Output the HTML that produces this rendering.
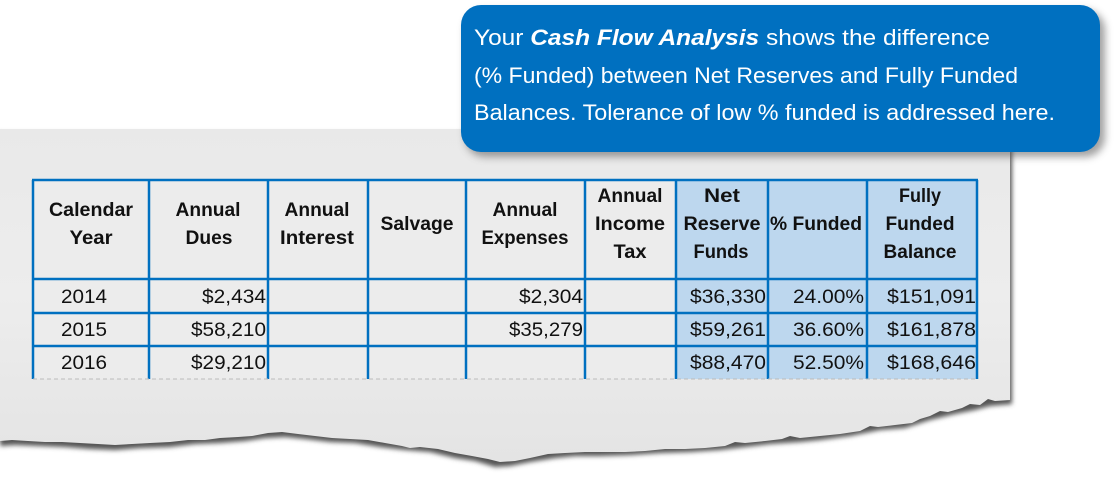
<!DOCTYPE html>
<html><head><meta charset="utf-8"><style>
html,body{margin:0;padding:0;background:#fff;width:1114px;height:480px;overflow:hidden}
svg{display:block}
</style></head><body>
<svg width="1114" height="480" viewBox="0 0 1114 480" xmlns="http://www.w3.org/2000/svg">
<defs>
<filter id="bl" x="-5%" y="-5%" width="110%" height="120%"><feGaussianBlur stdDeviation="2.5"/></filter>
<filter id="bl2" x="-5%" y="-10%" width="115%" height="130%"><feGaussianBlur stdDeviation="4"/></filter>
<linearGradient id="pg" x1="0" y1="0" x2="0" y2="1">
<stop offset="0" stop-color="#e9e9e9"/><stop offset="0.5" stop-color="#ededed"/><stop offset="1" stop-color="#e4e4e4"/>
</linearGradient>
</defs>
<path d="M0,133 L1012,133 L1012,404 L990,406 L975,410 L955,414 L930,420 L905,428 L880,430 L850,436 L820,440 L800,442 L770,444 L745,447 L720,450 L690,452 L660,453 L630,455 L600,456 L575,456 L555,458 L530,462 L510,466 L495,467 L475,461 L455,458 L430,452 L405,450 L380,447 L355,443 L330,442 L305,439 L285,437 L265,438 L245,441 L220,443 L195,444 L170,447 L140,448 L115,450 L90,449 L65,447 L40,446 L15,445 L0,446 Z" fill="#555" filter="url(#bl)"/>
<path d="M0,129 L1010,129 L1010,400 L995,401 L988,399 L980,405 L970,404 L962,408 L948,412 L940,411 L930,416 L920,419 L912,423 L895,425 L878,427 L870,426 L860,431 L840,434 L820,436 L800,438 L790,436 L782,439 L765,441 L745,443 L735,442 L725,446 L705,448 L685,449 L665,449 L645,451 L625,452 L605,452 L585,452 L565,453 L548,454 L530,458 L515,461 L500,462 L488,459 L472,456 L455,453 L438,449 L420,447 L410,448 L402,446 L385,443 L368,440 L350,439 L332,438 L315,436 L298,434 L282,432 L268,433 L252,436 L238,437 L220,438 L205,440 L188,440 L170,442 L150,443 L132,444 L115,445 L98,444 L80,443 L62,442 L45,442 L28,441 L12,440 L0,441 Z" fill="url(#pg)"/>

<rect x="33" y="180" width="643" height="199" fill="#ececec"/>
<rect x="676" y="180" width="301" height="199" fill="#bdd7ee"/>
<g stroke="#0070c0" stroke-width="2.5" fill="none">
<line x1="32" y1="180" x2="978" y2="180"/>
<line x1="32" y1="279" x2="978" y2="279"/>
<line x1="32" y1="313" x2="978" y2="313"/>
<line x1="32" y1="346" x2="978" y2="346"/>
<line x1="33" y1="180" x2="33" y2="379"/>
<line x1="149" y1="180" x2="149" y2="379"/>
<line x1="268" y1="180" x2="268" y2="379"/>
<line x1="368" y1="180" x2="368" y2="379"/>
<line x1="466" y1="180" x2="466" y2="379"/>
<line x1="585" y1="180" x2="585" y2="379"/>
<line x1="676" y1="180" x2="676" y2="379"/>
<line x1="768" y1="180" x2="768" y2="379"/>
<line x1="867" y1="180" x2="867" y2="379"/>
<line x1="977" y1="180" x2="977" y2="379"/>
</g>
<line x1="33" y1="379" x2="977" y2="379" stroke="#bbb" stroke-width="1" stroke-dasharray="4,3"/>

<g font-family="Liberation Sans, sans-serif" font-weight="bold" font-size="19" fill="#111" text-anchor="middle">
<text x="91" y="216" textLength="84" lengthAdjust="spacingAndGlyphs">Calendar</text>
<text x="91" y="244" textLength="43" lengthAdjust="spacingAndGlyphs">Year</text>
<text x="208" y="216" textLength="65" lengthAdjust="spacingAndGlyphs">Annual</text>
<text x="209" y="244" textLength="47" lengthAdjust="spacingAndGlyphs">Dues</text>
<text x="317" y="216" textLength="65" lengthAdjust="spacingAndGlyphs">Annual</text>
<text x="317" y="244" textLength="74" lengthAdjust="spacingAndGlyphs">Interest</text>
<text x="417" y="230" textLength="73" lengthAdjust="spacingAndGlyphs">Salvage</text>
<text x="525" y="216" textLength="65" lengthAdjust="spacingAndGlyphs">Annual</text>
<text x="525" y="244" textLength="87" lengthAdjust="spacingAndGlyphs">Expenses</text>
<text x="630" y="202" textLength="65" lengthAdjust="spacingAndGlyphs">Annual</text>
<text x="630" y="230" textLength="70" lengthAdjust="spacingAndGlyphs">Income</text>
<text x="630" y="258" textLength="33" lengthAdjust="spacingAndGlyphs">Tax</text>
<text x="722" y="202" textLength="36" lengthAdjust="spacingAndGlyphs">Net</text>
<text x="722" y="230" textLength="77" lengthAdjust="spacingAndGlyphs">Reserve</text>
<text x="721" y="258" textLength="55" lengthAdjust="spacingAndGlyphs">Funds</text>
<text x="816" y="230" textLength="92" lengthAdjust="spacingAndGlyphs">% Funded</text>
<text x="920" y="202" textLength="42" lengthAdjust="spacingAndGlyphs">Fully</text>
<text x="920" y="230" textLength="69" lengthAdjust="spacingAndGlyphs">Funded</text>
<text x="920" y="258" textLength="73" lengthAdjust="spacingAndGlyphs">Balance</text>
</g>

<g font-family="Liberation Sans, sans-serif" font-size="19" fill="#111">
<text x="61" y="303" textLength="46" lengthAdjust="spacingAndGlyphs">2014</text>
<text x="61" y="336" textLength="46" lengthAdjust="spacingAndGlyphs">2015</text>
<text x="61" y="369" textLength="46" lengthAdjust="spacingAndGlyphs">2016</text>
</g>
<g font-family="Liberation Sans, sans-serif" font-size="19" fill="#111" text-anchor="end">
<text x="266" y="303" textLength="64" lengthAdjust="spacingAndGlyphs">$2,434</text>
<text x="266" y="336" textLength="75" lengthAdjust="spacingAndGlyphs">$58,210</text>
<text x="266" y="369" textLength="75" lengthAdjust="spacingAndGlyphs">$29,210</text>
<text x="583" y="303" textLength="64" lengthAdjust="spacingAndGlyphs">$2,304</text>
<text x="583" y="336" textLength="74" lengthAdjust="spacingAndGlyphs">$35,279</text>
<text x="766" y="303" textLength="76" lengthAdjust="spacingAndGlyphs">$36,330</text>
<text x="766" y="336" textLength="76" lengthAdjust="spacingAndGlyphs">$59,261</text>
<text x="766" y="369" textLength="76" lengthAdjust="spacingAndGlyphs">$88,470</text>
<text x="864" y="303" textLength="71" lengthAdjust="spacingAndGlyphs">24.00%</text>
<text x="864" y="336" textLength="71" lengthAdjust="spacingAndGlyphs">36.60%</text>
<text x="864" y="369" textLength="71" lengthAdjust="spacingAndGlyphs">52.50%</text>
<text x="976" y="303" textLength="89" lengthAdjust="spacingAndGlyphs">$151,091</text>
<text x="976" y="336" textLength="89" lengthAdjust="spacingAndGlyphs">$161,878</text>
<text x="976" y="369" textLength="89" lengthAdjust="spacingAndGlyphs">$168,646</text>
</g>

<rect x="465" y="10" width="640" height="147" rx="20" fill="#555" opacity="0.55" filter="url(#bl2)"/>
<rect x="461" y="5" width="639" height="147" rx="20" fill="#0070c0"/>
<g font-family="Liberation Sans, sans-serif" font-size="22" fill="#fff">
<text x="474" y="45" textLength="516" lengthAdjust="spacingAndGlyphs">Your <tspan font-weight="bold" font-style="italic">Cash Flow Analysis</tspan>  shows the difference</text>
<text x="474" y="83" textLength="544" lengthAdjust="spacingAndGlyphs">(% Funded) between Net Reserves and Fully Funded</text>
<text x="474" y="120" textLength="581" lengthAdjust="spacingAndGlyphs">Balances.  Tolerance of low % funded is addressed here.</text>
</g>
</svg>
</body></html>
